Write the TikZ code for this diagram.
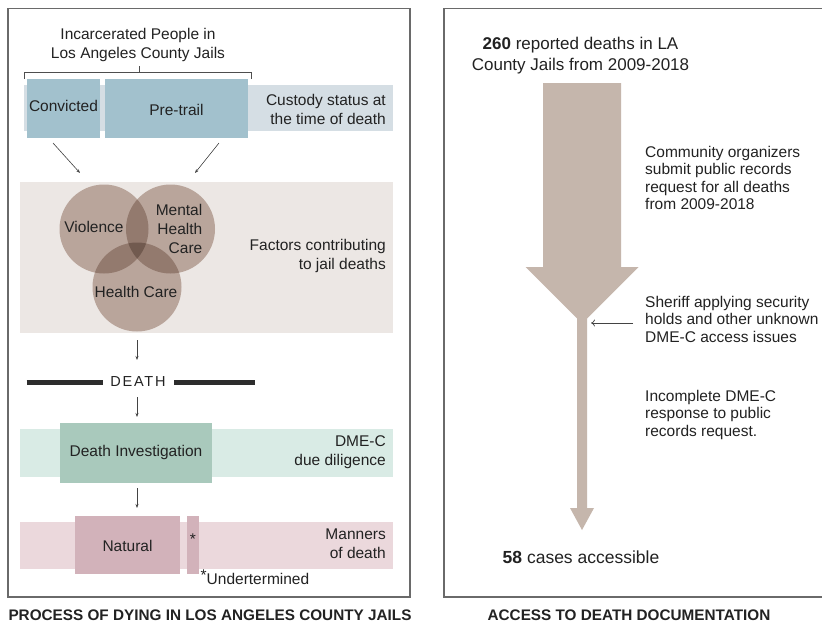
\documentclass[tikz,border=0pt]{standalone}
\usepackage{fontspec}
\setmainfont{Liberation Sans}
\usetikzlibrary{arrows.meta}
\definecolor{framec}{HTML}{6A6A6A}
\definecolor{txt}{HTML}{222222}
\definecolor{custbg}{HTML}{D5DEE4}
\definecolor{custbox}{HTML}{A2C1CD}
\definecolor{factbg}{HTML}{ECE7E4}
\definecolor{circa}{HTML}{B9A59B}
\definecolor{circb}{HTML}{937A6E}
\definecolor{circc}{HTML}{715A4F}
\definecolor{dmebg}{HTML}{D9EBE5}
\definecolor{dmebox}{HTML}{A9C9BC}
\definecolor{manbg}{HTML}{EBD8DC}
\definecolor{manbox}{HTML}{D2B2BA}
\definecolor{flowc}{HTML}{C5B6AC}
\tikzset{
  band/.style={draw=none, inner sep=0pt},
  lbl/.style={text=txt, inner sep=0pt, font=\fontsize{15.5}{19}\selectfont},
  rlbl/.style={text=txt, inner sep=0pt, anchor=west, align=left, font=\fontsize{15.5}{17.5}\selectfont},
  sidelbl/.style={lbl, anchor=east, align=right},
  smallarrow/.style={draw=txt!85, line width=0.6pt, -{Stealth[length=4pt,width=3pt]}},
  ttl/.style={text=txt, inner sep=0pt, font=\fontsize{15.3}{18}\selectfont\bfseries},
}
\begin{document}
\begin{tikzpicture}[x=1pt,y=-1pt]
\useasboundingbox (0,0) rectangle (822,624);
\fill[white] (0,0) rectangle (822,624);
% frames
\draw[framec, line width=1.2pt] (8,8.5) rectangle (410,597);
\draw[framec, line width=1.2pt] (826,8.5) -- (444,8.5) -- (444,597) -- (826,597);

% ---------- left panel ----------
\node[lbl, align=center] (incarc) at (138,45) {Incarcerated People in\\Los Angeles County Jails};
\draw[txt!80, line width=0.7pt] (24.3,79) -- (24.3,72.5) -- (251.7,72.5) -- (251.7,79);
\draw[txt!80, line width=0.7pt] (139,72.5) -- (139,65.5);

\node[band, fill=custbg, minimum width=369, minimum height=46] (custband) at (208.5,108) {};
\node[band, fill=custbox, minimum width=73, minimum height=59] (conv) at (63.5,108.5) {};
\node[lbl] at (63.5,106) {Convicted};
\node[band, fill=custbox, minimum width=143, minimum height=59] (pret) at (176.5,108.5) {};
\node[lbl] at (176.5,110) {Pre-trail};
\node[sidelbl] (custlbl) at (386,109) {Custody status at\\the time of death};

\coordinate (a1s) at (53,143);
\coordinate (a1e) at (80,173);
\coordinate (a2s) at (219,143);
\coordinate (a2e) at (195,173);
\draw[smallarrow] (a1s) -- (a1e);
\draw[smallarrow] (a2s) -- (a2e);

\node[band, fill=factbg, minimum width=373, minimum height=151] (factband) at (206.5,257.5) {};
\coordinate (cv) at (104,229);
\coordinate (cm) at (170.5,229);
\coordinate (ch) at (137,287);
\fill[circa] (cv) circle (44.5);
\fill[circa] (cm) circle (44.5);
\fill[circa] (ch) circle (44.5);
\begin{scope}
  \clip (cv) circle (44.5);
  \fill[circb] (cm) circle (44.5);
  \fill[circb] (ch) circle (44.5);
\end{scope}
\begin{scope}
  \clip (cm) circle (44.5);
  \fill[circb] (ch) circle (44.5);
\end{scope}
\begin{scope}
  \clip (cv) circle (44.5);
  \clip (cm) circle (44.5);
  \fill[circc] (ch) circle (44.5);
\end{scope}
\node[lbl] (viol) at (94,227) {Violence};
\node[lbl, anchor=east, align=right] (mental) at (202.5,228.5) {Mental\\Health\\Care};
\node[lbl] (hcare) at (136,292) {Health Care};
\node[sidelbl] (factlbl) at (386,255.5) {Factors contributing\\to jail deaths};

\coordinate (a3s) at (137,340);
\coordinate (a3e) at (137,360);
\draw[smallarrow] (a3s) -- (a3e);

\node[text=txt, inner sep=0pt, font=\fontsize{14.5}{17}\selectfont\addfontfeature{LetterSpace=12}] (death) at (138,382) {DEATH};
\draw[txt!95, line width=5pt] (26.7,382) -- (103,382);
\draw[txt!95, line width=5pt] (174,382) -- (255,382);

\coordinate (a4s) at (137,397);
\coordinate (a4e) at (137,417);
\draw[smallarrow] (a4s) -- (a4e);

\node[band, fill=dmebg, minimum width=373, minimum height=48] (dmeband) at (206.5,453) {};
\node[band, fill=dmebox, minimum width=152, minimum height=60] (invest) at (136,453) {};
\node[lbl] at (136,452) {Death Investigation};
\node[sidelbl] (dmelbl) at (386,452.5) {DME-C\\due diligence};

\coordinate (a5s) at (137,488);
\coordinate (a5e) at (137,508);
\draw[smallarrow] (a5s) -- (a5e);

\node[band, fill=manbg, minimum width=373, minimum height=47] (manband) at (206.5,545.5) {};
\node[band, fill=manbox, minimum width=105, minimum height=58] (natural) at (127.5,545) {};
\node[lbl] at (127.5,545.5) {Natural};
\node[band, fill=manbox, minimum width=12, minimum height=58] (undet) at (193,545) {};
\node[lbl] at (193,539) {*};
\node[lbl, anchor=west] (undetlbl) at (200.5,577) {\raisebox{4pt}{*}Undertermined};
\node[sidelbl] (manlbl) at (386,543.5) {Manners\\of death};

\node[ttl] (ltitle) at (210,615.5) {PROCESS OF DYING IN LOS ANGELES COUNTY JAILS};

% ---------- right panel ----------
\node[text=txt, inner sep=0pt, align=center, font=\fontsize{17}{21}\selectfont] (top) at (580.5,56) {\textbf{260} reported deaths in LA\\County Jails from 2009-2018};
\fill[flowc] (543,83) -- (621,83) -- (621,267) -- (638.5,267) -- (587,318.5) -- (587,508)
  -- (594,508) -- (582,530) -- (570,508) -- (577,508) -- (577,318.5) -- (525.5,267) -- (543,267) -- cycle;
\coordinate (neck) at (591,323);
\coordinate (sherstart) at (633,323);
\node[rlbl] (comm) at (645,178) {Community organizers\\submit public records\\request for all deaths\\from 2009-2018};
\node[rlbl] (sheriff) at (645,319) {Sheriff applying security\\holds and other unknown\\DME-C access issues};
\draw[txt!85, line width=0.7pt, -{To[length=4pt,width=7pt]}] (sherstart) -- (neck);
\node[rlbl] (incompl) at (645,414.5) {Incomplete DME-C\\response to public\\records request.};
\node[text=txt, inner sep=0pt, font=\fontsize{17.5}{21}\selectfont] (bottom) at (581,557) {\textbf{58} cases accessible};

\node[ttl] (rtitle) at (629,615.5) {ACCESS TO DEATH DOCUMENTATION};
\end{tikzpicture}
\end{document}
